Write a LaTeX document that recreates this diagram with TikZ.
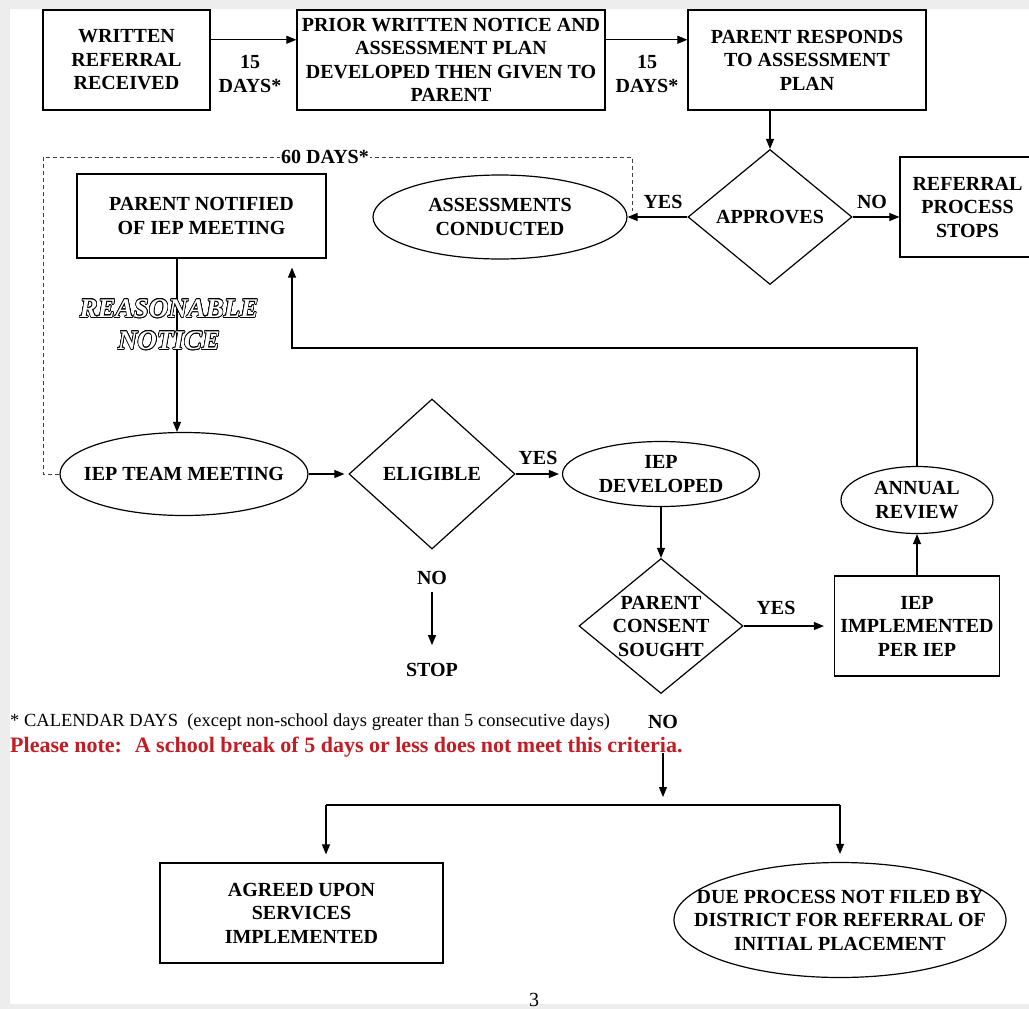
\documentclass[tikz,border=0pt]{standalone}
\usepackage{fontspec}
\setmainfont{Liberation Serif}
\usepackage{contour}
\contourlength{0.7pt}
\usetikzlibrary{shapes.geometric,arrows.meta,calc}
\definecolor{notered}{RGB}{196,28,36}
\tikzset{txt/.style={
    font=\bfseries\fontsize{20}{23.5}\selectfont, align=center
  },
  box/.style={txt, draw, rectangle, line width=1.2pt, inner sep=0pt},
  oval/.style={txt, draw, ellipse, line width=1.2pt, inner sep=-30pt},
  decision/.style={txt, draw, diamond, line width=1.2pt, inner sep=-30pt},
  lbl/.style={txt, inner sep=2pt},
  arr/.style={line width=1.1pt, -{Triangle[length=10pt,width=8pt]}},
  link/.style={line width=1.1pt},
  sixty/.style={line width=0.9pt, dash pattern=on 4pt off 3pt, draw=black!75}
}

\begin{document}
\begin{tikzpicture}[x=1pt,y=-1pt]
    \useasboundingbox (0,0) rectangle (1029,1009);
    \fill[black!7] (0,0) rectangle (1029,1009);
    \fill[white] (10,9) rectangle (1029,1004);

    \node[box, minimum width=167pt, minimum height=100pt] (referral) at (126.5,60) {WRITTEN\\REFERRAL\\RECEIVED};
    \node[box, minimum width=308pt, minimum height=100pt] (notice) at (451,60) {PRIOR WRITTEN NOTICE AND\\ASSESSMENT PLAN\\DEVELOPED THEN GIVEN TO\\PARENT};
    \node[box, minimum width=238pt, minimum height=100pt] (respond) at (807,60) {PARENT RESPONDS\\TO ASSESSMENT\\PLAN};
    \node[lbl] (days1) at (250,74) {15\\DAYS*};
    \node[lbl] (days2) at (647,74) {15\\DAYS*};

    \node[decision, minimum width=164pt, minimum height=135pt] (approves) at (770,217) {APPROVES};
    \node[box, minimum width=135pt, minimum height=100pt] (stops) at (967.5,207) {REFERRAL\\PROCESS\\STOPS};
    \node[oval, minimum width=254pt, minimum height=84pt] (assess) at (500,217) {ASSESSMENTS\\CONDUCTED};
    \node[box, minimum width=249pt, minimum height=84pt] (notified) at (201.5,216) {PARENT NOTIFIED\\OF IEP MEETING};
    \node[lbl] (yes1) at (663,202) {YES};
    \node[lbl] (no1) at (872,202) {NO};

    \node[oval, minimum width=248pt, minimum height=83pt] (team) at (184,474) {IEP TEAM MEETING};
    \node[decision, minimum width=166pt, minimum height=150pt] (eligible) at (432,474) {ELIGIBLE};
    \node[lbl] (nostop) at (432,578) {NO};
    \node[lbl] (stop) at (432,670) {STOP};
    \node[oval, minimum width=197pt, minimum height=65pt] (developed) at (661,474) {IEP\\DEVELOPED};
    \node[lbl] (yes2) at (538,458) {YES};
    \node[decision, minimum width=164pt, minimum height=135pt] (consent) at (661,626) {PARENT\\CONSENT\\SOUGHT};
    \node[lbl] (yes3) at (776,608) {YES};
    \node[box, minimum width=165pt, minimum height=100pt] (implemented) at (917,626) {IEP\\IMPLEMENTED\\PER IEP};
    \node[oval, minimum width=152pt, minimum height=67pt] (review) at (917,500) {ANNUAL\\REVIEW};

    \node[anchor=west, inner sep=0pt, font=\fontsize{18.5}{20}\selectfont] (calendar) at (10,722) {* CALENDAR DAYS~ (except non-school days greater than 5 consecutive days)};
    \node[lbl] (noconsent) at (663,722) {NO};
    \node[anchor=west, inner sep=0pt, text=notered, font=\bfseries\fontsize{22}{24}\selectfont] (pleasenote) at (10,747) {Please note:~ A school break of 5 days or less does not meet this criteria.};

    \node[box, minimum width=283pt, minimum height=100pt] (agreed) at (301.5,913) {AGREED UPON\\SERVICES\\IMPLEMENTED};
    \node[oval, minimum width=332pt, minimum height=115pt] (dueprocess) at (840,920) {DUE PROCESS NOT FILED BY\\DISTRICT FOR REFERRAL OF\\INITIAL PLACEMENT};
    \node[font=\fontsize{20}{22}\selectfont] (pagenum) at (534,1000) {3};

    \coordinate (drop) at (177,258);
    \coordinate (loop) at (292,348);
    \coordinate (dashbl) at (43,474);
    \coordinate (dashtl) at (43,157);
    \coordinate (dashtr) at (632,157);
    \coordinate (dashend) at (632,211);
    \coordinate (split) at (663,805);
    \coordinate (splitl) at (326,805);
    \coordinate (splitr) at (840,805);

    \draw[arr] ($(referral.north east)!.3!(referral.south east)$) -- ($(notice.north west)!.3!(notice.south west)$);
    \draw[arr] ($(notice.north east)!.3!(notice.south east)$) -- ($(respond.north west)!.3!(respond.south west)$);
    \draw[arr] (approves.north |- respond.south) -- (approves.north);
    \draw[arr] (approves.east) -- (approves.east -| stops.west);
    \draw[arr] (approves.west) -- (assess.east);
    \draw[arr] (drop |- notified.south) -- (drop |- team.north);
    \draw[arr, shorten >=4pt] (team.east) -- (eligible.west);
    \draw[arr, shorten >=3pt] (eligible.east) -- (developed.west);
    \draw[arr, shorten <=5pt, shorten >=16pt] (nostop) -- (stop);
    \draw[arr] (developed.south) -- (consent.north);
    \draw[arr, shorten >=10pt] (consent.east) -- (consent.east -| implemented.west);
    \draw[arr] (implemented.north) -- (review.south);
    \draw[arr, shorten >=9pt] (review.north) |- (loop) -- (loop |- notified.south);

    \draw[sixty] (team.west) -- (dashbl) -- (dashtl) -- (dashtr) -- (dashend);
    \node[lbl, fill=white, inner sep=1pt] (sixtydays) at (325,157) {60 DAYS*};

    \node[font=\bfseries\itshape\fontsize{27}{32}\selectfont, text=white, align=center] (reasonable) at (169,325) {\contour{black}{REASONABLE}\\\contour{black}{NOTICE}};

    \draw[arr, shorten <=31pt, shorten >=8pt] (noconsent.center) -- (split);
    \draw[link] (splitl) -- (splitr);
    \draw[arr, shorten >=8pt] (splitl) -- (splitl |- agreed.north);
    \draw[arr, shorten >=8pt] (splitr) -- (dueprocess.north);
\end{tikzpicture}
\end{document}
